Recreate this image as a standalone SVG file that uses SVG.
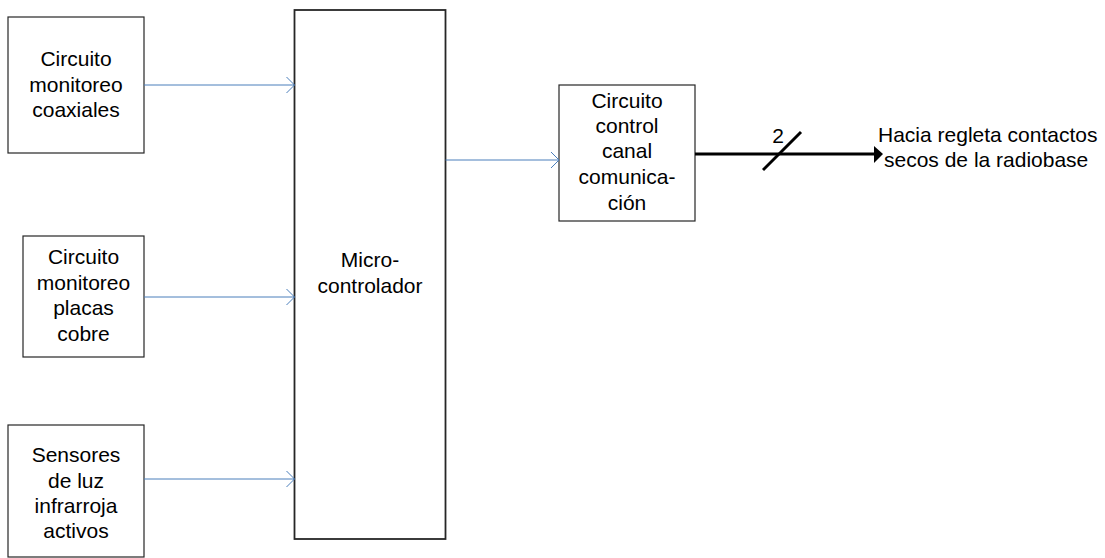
<svg xmlns="http://www.w3.org/2000/svg" width="1105" height="558" viewBox="0 0 1105 558">
  <style>
    .box { fill: #ffffff; stroke: #262626; stroke-width: 1.2; }
    .mcu { fill: #ffffff; stroke: #262626; stroke-width: 1.8; }
    .lbl { font-family: "Liberation Sans", Arial, sans-serif; font-size: 21px; fill: #000000; text-anchor: middle; }
    .note { font-family: "Liberation Sans", Arial, sans-serif; font-size: 21px; fill: #000000; }
    .sig { stroke: #4a7ebb; stroke-width: 1; fill: none; }
    .bus { stroke: #000000; stroke-width: 3; fill: none; }
  </style>
  <defs>
    <marker id="open-arrow" viewBox="0 0 10 18" refX="9" refY="9" markerWidth="10" markerHeight="18" markerUnits="userSpaceOnUse" orient="auto">
      <path d="M1,1 L9,9 L1,17" fill="none" stroke="#4a7ebb" stroke-width="1"/>
    </marker>
  </defs>

  <rect width="1105" height="558" fill="#ffffff"/>

  <g id="coaxiales">
    <rect class="box" x="8" y="17" width="136" height="136"/>
    <text class="lbl" x="76" y="66">Circuito</text>
    <text class="lbl" x="76" y="92">monitoreo</text>
    <text class="lbl" x="76" y="117">coaxiales</text>
  </g>

  <g id="placas">
    <rect class="box" x="23" y="236" width="121" height="121"/>
    <text class="lbl" x="83.5" y="264">Circuito</text>
    <text class="lbl" x="83.5" y="290">monitoreo</text>
    <text class="lbl" x="83.5" y="315">placas</text>
    <text class="lbl" x="83.5" y="341">cobre</text>
  </g>

  <g id="sensores">
    <rect class="box" x="8" y="425" width="136" height="132"/>
    <text class="lbl" x="76" y="462">Sensores</text>
    <text class="lbl" x="76" y="488">de luz</text>
    <text class="lbl" x="76" y="513">infrarroja</text>
    <text class="lbl" x="76" y="538">activos</text>
  </g>

  <g id="microcontrolador">
    <rect class="mcu" x="294.5" y="10" width="151" height="529"/>
    <text class="lbl" x="370" y="267">Micro-</text>
    <text class="lbl" x="370" y="293">controlador</text>
  </g>

  <g id="canal">
    <rect class="box" x="559" y="85" width="136" height="136"/>
    <text class="lbl" x="627" y="108">Circuito</text>
    <text class="lbl" x="627" y="133">control</text>
    <text class="lbl" x="627" y="158">canal</text>
    <text class="lbl" x="627" y="184">comunica-</text>
    <text class="lbl" x="627" y="210">ción</text>
  </g>

  <g id="connectors">
    <line class="sig" x1="144" y1="85" x2="294.5" y2="85" marker-end="url(#open-arrow)"/>
    <line class="sig" x1="144" y1="297" x2="294.5" y2="297" marker-end="url(#open-arrow)"/>
    <line class="sig" x1="144" y1="479" x2="294.5" y2="479" marker-end="url(#open-arrow)"/>
    <line class="sig" x1="445.5" y1="160" x2="559" y2="160" marker-end="url(#open-arrow)"/>
    <!-- two-wire bus to the contact strip -->
    <line class="bus" x1="695" y1="154" x2="875" y2="154"/>
    <polygon points="874,146 883,154 874,163" fill="#000000"/>
    <line class="bus" x1="763" y1="170" x2="801" y2="132"/>
    <text class="note" x="778" y="143" text-anchor="middle">2</text>
  </g>

  <g id="destino">
    <text class="note" x="878" y="142">Hacia regleta contactos</text>
    <text class="note" x="884" y="167">secos de la radiobase</text>
  </g>
</svg>
